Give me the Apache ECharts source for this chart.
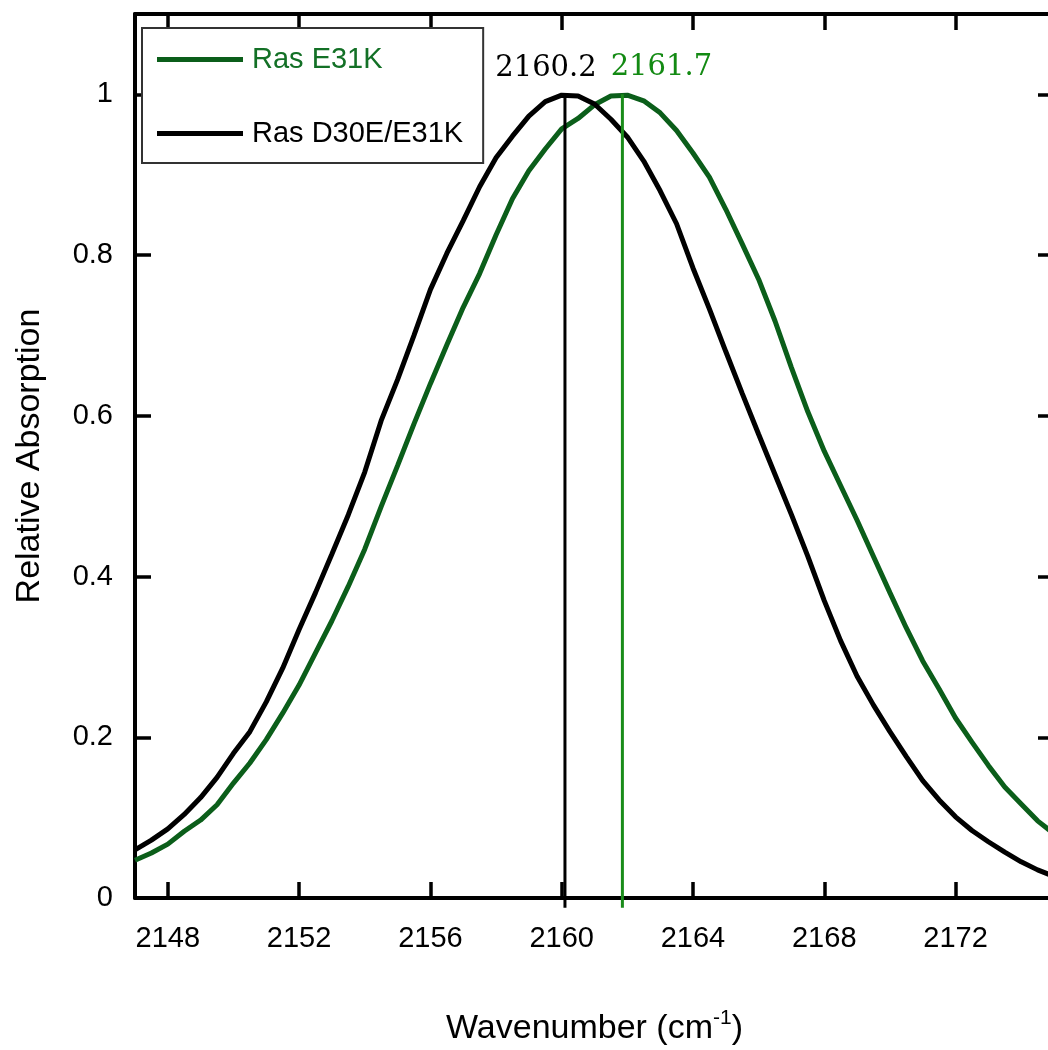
<!DOCTYPE html>
<html><head><meta charset="utf-8">
<script src="https://cdn.jsdelivr.net/npm/echarts@6/dist/echarts.min.js"></script>
<style>html,body{margin:0;padding:0;background:#fff}#c{width:1048px;height:1050px}</style>
</head><body><div id="c"></div>
<script>
// Wavenumber grid (cm-1)
const wavenumbers = [2147.0,2147.5,2148.0,2148.5,2149.0,2149.5,2150.0,2150.5,2151.0,2151.5,
  2152.0,2152.5,2153.0,2153.5,2154.0,2154.5,2155.0,2155.5,2156.0,2156.5,
  2157.0,2157.5,2158.0,2158.5,2159.0,2159.5,2160.0,2160.5,2161.0,2161.5,
  2162.0,2162.5,2163.0,2163.5,2164.0,2164.5,2165.0,2165.5,2166.0,2166.5,
  2167.0,2167.5,2168.0,2168.5,2169.0,2169.5,2170.0,2170.5,2171.0,2171.5,
  2172.0,2172.5,2173.0,2173.5,2174.0,2174.5,2175.0];
// Ras E31K (green)
const rasE31K = [0.047,0.056,0.067,0.083,0.097,0.116,0.143,0.168,0.197,0.230,
  0.265,0.305,0.345,0.388,0.434,0.487,0.538,0.590,0.640,0.688,
  0.735,0.777,0.825,0.870,0.905,0.932,0.957,0.970,0.987,0.998,
  0.999,0.992,0.977,0.955,0.927,0.897,0.857,0.814,0.770,0.718,
  0.660,0.605,0.556,0.513,0.470,0.425,0.380,0.336,0.295,0.260,
  0.224,0.194,0.165,0.138,0.117,0.096,0.080];
// Ras D30E/E31K (black)
const rasD30EE31K = [0.060,0.072,0.086,0.104,0.125,0.150,0.180,0.207,0.244,0.286,
  0.334,0.380,0.428,0.477,0.530,0.594,0.645,0.700,0.757,0.802,
  0.843,0.885,0.921,0.948,0.973,0.991,0.999,0.998,0.988,0.969,
  0.947,0.917,0.880,0.839,0.784,0.733,0.680,0.628,0.577,0.527,
  0.477,0.425,0.370,0.320,0.276,0.240,0.207,0.176,0.146,0.122,
  0.101,0.084,0.070,0.057,0.045,0.035,0.027];
const xTicks = [2148,2152,2156,2160,2164,2168,2172];
const yTicks = [0,0.2,0.4,0.6,0.8,1];
const seriesNames = ['Ras E31K','Ras D30E/E31K'];
const peakPositions = [2160.1, 2161.85];
const peakLabels = ['2160.2','2161.7'];
const peakTop = 1.0;
const peakBottom = -0.012;

const SANS = 'Liberation Sans, Arial, sans-serif';
const SERIF = 'DejaVu Serif, serif';
const GREEN = '#0b5e1a';
const GREEN_LINE = '#1a8c1a';

const zip = (xs, ys) => xs.map((x, i) => [x, ys[i]]);

const chart = echarts.init(document.getElementById('c'), null, {renderer: 'canvas'});

const axisLineStyle = {color: '#000', width: 4};
const tickStyle = {color: '#000', width: 3.5};

function peakSeries(i, color, labelColor, offsetX, dist) {
  return {
    name: 'peak-' + i, type: 'line', clip: false, z: 5,
    symbol: 'circle', symbolSize: 1, showSymbol: true,
    itemStyle: {color: 'rgba(0,0,0,0)'},
    lineStyle: {color: color, width: 3},
    data: [
      {value: [peakPositions[i], peakTop], label: {show: true, position: 'top', distance: dist, offset: [offsetX, 0],
        formatter: peakLabels[i], fontSize: 29, fontFamily: SERIF, color: labelColor}},
      {value: [peakPositions[i], peakBottom], label: {show: false}}
    ],
    tooltip: {show: false}
  };
}

chart.setOption({
  animation: false,
  backgroundColor: '#fff',
  grid: {left: 135, top: 14, width: 919, height: 884, outerBoundsMode: 'none', containLabel: false},
  legend: {
    left: 142, top: 28, orient: 'vertical', selectedMode: false,
    itemWidth: 86, itemHeight: 5, itemGap: 45, icon: 'rect',
    padding: [17, 20, 15, 15],
    backgroundColor: '#fff', borderColor: '#333', borderWidth: 2,
    textStyle: {fontSize: 29, fontFamily: SANS, color: '#000', padding: [0, 0, 0, 4]},
    data: [
      {name: seriesNames[0], textStyle: {color: '#137026'}},
      {name: seriesNames[1]}
    ]
  },
  xAxis: [
    {
      type: 'value', min: 2147, max: 2175, position: 'bottom',
      name: 'Wavenumber (cm{sup|-1})', nameLocation: 'middle', nameGap: 110,
      nameTextStyle: {
        fontSize: 34, fontFamily: SANS, color: '#000',
        rich: {sup: {fontSize: 21, fontFamily: SANS, color: '#000', verticalAlign: 'top', padding: [0, 0, 20, 0]}}
      },
      axisLine: {onZero: false, lineStyle: axisLineStyle},
      axisTick: {inside: true, length: 16, lineStyle: tickStyle, customValues: xTicks},
      axisLabel: {customValues: xTicks, fontSize: 29, fontFamily: SANS, color: '#000', margin: 26,
        formatter: v => String(v)},
      splitLine: {show: false}
    },
    {
      type: 'value', min: 2147, max: 2175, position: 'top',
      axisLine: {onZero: false, lineStyle: axisLineStyle},
      axisTick: {inside: true, length: 16, lineStyle: tickStyle, customValues: xTicks},
      axisLabel: {show: false},
      splitLine: {show: false}
    }
  ],
  yAxis: [
    {
      type: 'value', min: 0, max: 1.1, position: 'left',
      name: 'Relative Absorption', nameLocation: 'middle', nameGap: 88, nameTextStyle: {fontSize: 34, fontFamily: SANS, color: '#000'},
      axisLine: {onZero: false, lineStyle: axisLineStyle},
      axisTick: {inside: true, length: 16, lineStyle: tickStyle, customValues: yTicks},
      axisLabel: {customValues: yTicks, fontSize: 29, fontFamily: SANS, color: '#000', margin: 22,
        formatter: v => String(Math.round(v * 10) / 10)},
      splitLine: {show: false}
    },
    {
      type: 'value', min: 0, max: 1.1, position: 'right',
      axisLine: {onZero: false, lineStyle: axisLineStyle},
      axisTick: {inside: true, length: 16, lineStyle: tickStyle, customValues: yTicks},
      axisLabel: {show: false},
      splitLine: {show: false}
    }
  ],
  series: [
    {
      name: seriesNames[0], type: 'line', data: zip(wavenumbers, rasE31K),
      showSymbol: false, symbol: 'none', smooth: false,
      lineStyle: {color: GREEN, width: 5}, itemStyle: {color: GREEN}, z: 3
    },
    {
      name: seriesNames[1], type: 'line', data: zip(wavenumbers, rasD30EE31K),
      showSymbol: false, symbol: 'none', smooth: false,
      lineStyle: {color: '#000', width: 5}, itemStyle: {color: '#000'}, z: 4
    },
    peakSeries(0, '#000', '#000', -19, 11),
    peakSeries(1, GREEN_LINE, '#138a13', 39, 12)
  ]
});
</script></body></html>
